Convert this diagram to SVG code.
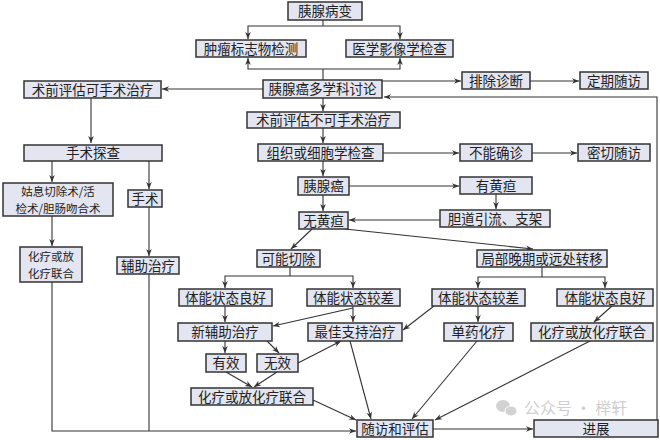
<svg xmlns="http://www.w3.org/2000/svg" width="660" height="440" viewBox="0 0 660 440">
<defs>
<style>
.b{fill:#e3e5f0;stroke:#333;stroke-width:1.5}
.t{font-family:"Noto Sans CJK SC","Noto Sans",sans-serif;font-size:13.5px;fill:#222;text-anchor:middle}
.s{font-size:11.5px}
.c path{fill:none;stroke:#333;stroke-width:1.1}
.c .a{marker-end:url(#ar)}
.wm{font-family:"Noto Sans CJK SC","Noto Sans",sans-serif;font-size:16px;fill:#cfcfcf}
</style>
<marker id="ar" viewBox="0 0 10 10" refX="10" refY="5" markerWidth="9" markerHeight="7" markerUnits="userSpaceOnUse" orient="auto">
<path d="M0,1 L10,5 L0,9 L3,5 z" fill="#333"/>
</marker>
</defs>
<rect width="660" height="440" fill="#fff"/>

<g class="c" id="connectors">
<path d="M323,20 V26"/>
<path class="a" d="M323,26 H248 V39"/>
<path class="a" d="M323,26 H400 V39"/>
<path d="M323,80 V69"/>
<path class="a" d="M323,69 H248 V58"/>
<path class="a" d="M323,69 H400 V58"/>
<path class="a" d="M263,89 H162"/>
<path class="a" d="M382,81 H461"/>
<path class="a" d="M530,81 H579"/>
<path class="a" d="M657,420 V97 H384"/>
<path class="a" d="M323,98 V111"/>
<path class="a" d="M323,128 V143"/>
<path class="a" d="M383,153 H459"/>
<path class="a" d="M532,153 H577"/>
<path class="a" d="M323,161 V176"/>
<path class="a" d="M349,186 H459"/>
<path class="a" d="M496,194 V209"/>
<path class="a" d="M440,220 H349"/>
<path class="a" d="M323,195 V211"/>
<path class="a" d="M312,229 L291,249"/>
<path class="a" d="M345,229 L533,249"/>
<path d="M290,267 V276"/>
<path class="a" d="M290,276 H225 V288"/>
<path class="a" d="M290,276 H353 V288"/>
<path d="M542,267 V277"/>
<path class="a" d="M542,277 H478 V288"/>
<path class="a" d="M542,277 H605 V288"/>
<path class="a" d="M225,306 V322"/>
<path class="a" d="M353,306 V322"/>
<path class="a" d="M353,308 L273,326"/>
<path class="a" d="M434,306 L403,330"/>
<path class="a" d="M478,306 V322"/>
<path class="a" d="M612,306 L594,322"/>
<path class="a" d="M225,341 V353"/>
<path class="a" d="M267,341 L279,353"/>
<path class="a" d="M226,372 L252,387"/>
<path class="a" d="M277,372 L254,387"/>
<path class="a" d="M298,363 L341,341"/>
<path class="a" d="M313,400 L356,420"/>
<path class="a" d="M350,341 L371,419"/>
<path class="a" d="M477,341 L412,419"/>
<path class="a" d="M590,341 L435,420"/>
<path class="a" d="M91,98 V143"/>
<path class="a" d="M52,161 V182"/>
<path class="a" d="M149,161 V189"/>
<path class="a" d="M52,216 V246"/>
<path class="a" d="M149,207 V256"/>
<path class="a" d="M52,282 V431 H356"/>
<path d="M149,274 V431"/>
<path class="a" d="M433,429 H533"/>
</g>

<g id="n1"><rect class="b" x="288" y="2" width="74" height="18"/><text class="t" x="325" y="16">胰腺病变</text></g>
<g id="n2"><rect class="b" x="196" y="40" width="110" height="17"/><text class="t" x="251" y="53.5">肿瘤标志物检测</text></g>
<g id="n3"><rect class="b" x="346" y="40" width="107" height="17"/><text class="t" x="399.5" y="53.5">医学影像学检查</text></g>
<g id="n4"><rect class="b" x="24" y="81" width="137" height="17"/><text class="t" x="92.5" y="94.5">术前评估可手术治疗</text></g>
<g id="n5"><rect class="b" x="263" y="80" width="119" height="18"/><text class="t" x="322.5" y="94">胰腺癌多学科讨论</text></g>
<g id="n6"><rect class="b" x="462" y="72" width="68" height="17"/><text class="t" x="496" y="85.5">排除诊断</text></g>
<g id="n7"><rect class="b" x="580" y="72" width="68" height="17"/><text class="t" x="614" y="85.5">定期随访</text></g>
<g id="n8"><rect class="b" x="247" y="112" width="153" height="16"/><text class="t" x="323.5" y="125">术前评估不可手术治疗</text></g>
<g id="n9"><rect class="b" x="258" y="144" width="125" height="17"/><text class="t" x="320.5" y="157.5">组织或细胞学检查</text></g>
<g id="n10"><rect class="b" x="460" y="144" width="72" height="17"/><text class="t" x="496" y="157.5">不能确诊</text></g>
<g id="n11"><rect class="b" x="578" y="144" width="72" height="17"/><text class="t" x="614" y="157.5">密切随访</text></g>
<g id="n12"><rect class="b" x="298" y="177" width="51" height="18"/><text class="t" x="323.5" y="191">胰腺癌</text></g>
<g id="n13"><rect class="b" x="460" y="177" width="72" height="17"/><text class="t" x="496" y="190.5">有黄疸</text></g>
<g id="n14"><rect class="b" x="440" y="210" width="110" height="17"/><text class="t" x="495" y="223.5">胆道引流、支架</text></g>
<g id="n15"><rect class="b" x="299" y="212" width="49" height="17"/><text class="t" x="323.5" y="225.5">无黄疸</text></g>
<g id="n16"><rect class="b" x="24" y="145" width="138" height="16"/><text class="t" x="93" y="158">手术探查</text></g>
<g id="n17"><rect class="b" x="3" y="183" width="110" height="33"/><text class="t s"><tspan x="58" y="196">姑息切除术/活</tspan><tspan x="58" y="212.5">检术/胆肠吻合术</tspan></text></g>
<g id="n18"><rect class="b" x="128" y="190" width="34" height="17"/><text class="t" x="145" y="203.5">手术</text></g>
<g id="n19"><rect class="b" x="20" y="247" width="62" height="35"/><text class="t s"><tspan x="51" y="261">化疗或放</tspan><tspan x="51" y="277.5">化疗联合</tspan></text></g>
<g id="n20"><rect class="b" x="117" y="257" width="62" height="17"/><text class="t" x="148" y="270.5">辅助治疗</text></g>
<g id="n21"><rect class="b" x="257" y="250" width="63" height="17"/><text class="t" x="288.5" y="263.5">可能切除</text></g>
<g id="n22"><rect class="b" x="477" y="250" width="130" height="17"/><text class="t" x="542" y="263.5">局部晚期或远处转移</text></g>
<g id="n23"><rect class="b" x="179" y="289" width="93" height="17"/><text class="t" x="225.5" y="302.5">体能状态良好</text></g>
<g id="n24"><rect class="b" x="307" y="289" width="93" height="17"/><text class="t" x="353.5" y="302.5">体能状态较差</text></g>
<g id="n25"><rect class="b" x="432" y="289" width="93" height="17"/><text class="t" x="478.5" y="302.5">体能状态较差</text></g>
<g id="n26"><rect class="b" x="557" y="289" width="96" height="17"/><text class="t" x="605" y="302.5">体能状态良好</text></g>
<g id="n27"><rect class="b" x="178" y="323" width="94" height="18"/><text class="t" x="225" y="337">新辅助治疗</text></g>
<g id="n28"><rect class="b" x="308" y="323" width="94" height="18"/><text class="t" x="355" y="337">最佳支持治疗</text></g>
<g id="n29"><rect class="b" x="444" y="323" width="69" height="18"/><text class="t" x="478.5" y="337">单药化疗</text></g>
<g id="n30"><rect class="b" x="531" y="323" width="122" height="18"/><text class="t" x="592" y="337">化疗或放化疗联合</text></g>
<g id="n31"><rect class="b" x="206" y="354" width="40" height="18"/><text class="t" x="226" y="368">有效</text></g>
<g id="n32"><rect class="b" x="257" y="354" width="41" height="18"/><text class="t" x="277.5" y="368">无效</text></g>
<g id="n33"><rect class="b" x="191" y="388" width="122" height="17"/><text class="t" x="252" y="401.5">化疗或放化疗联合</text></g>
<g id="n34"><rect class="b" x="357" y="420" width="76" height="17"/><text class="t" x="395" y="433.5">随访和评估</text></g>
<g id="n35"><rect class="b" x="534" y="420" width="124" height="17"/><text class="t" x="596" y="433.5">进展</text></g>

<g id="watermark">
<ellipse cx="503" cy="406" rx="7" ry="6" fill="#d2d2d2"/>
<ellipse cx="511" cy="411" rx="6" ry="5" fill="#d2d2d2" stroke="#fff" stroke-width="1"/>
<text class="wm" x="524" y="414">公众号 · 榉轩</text>
</g>
</svg>
